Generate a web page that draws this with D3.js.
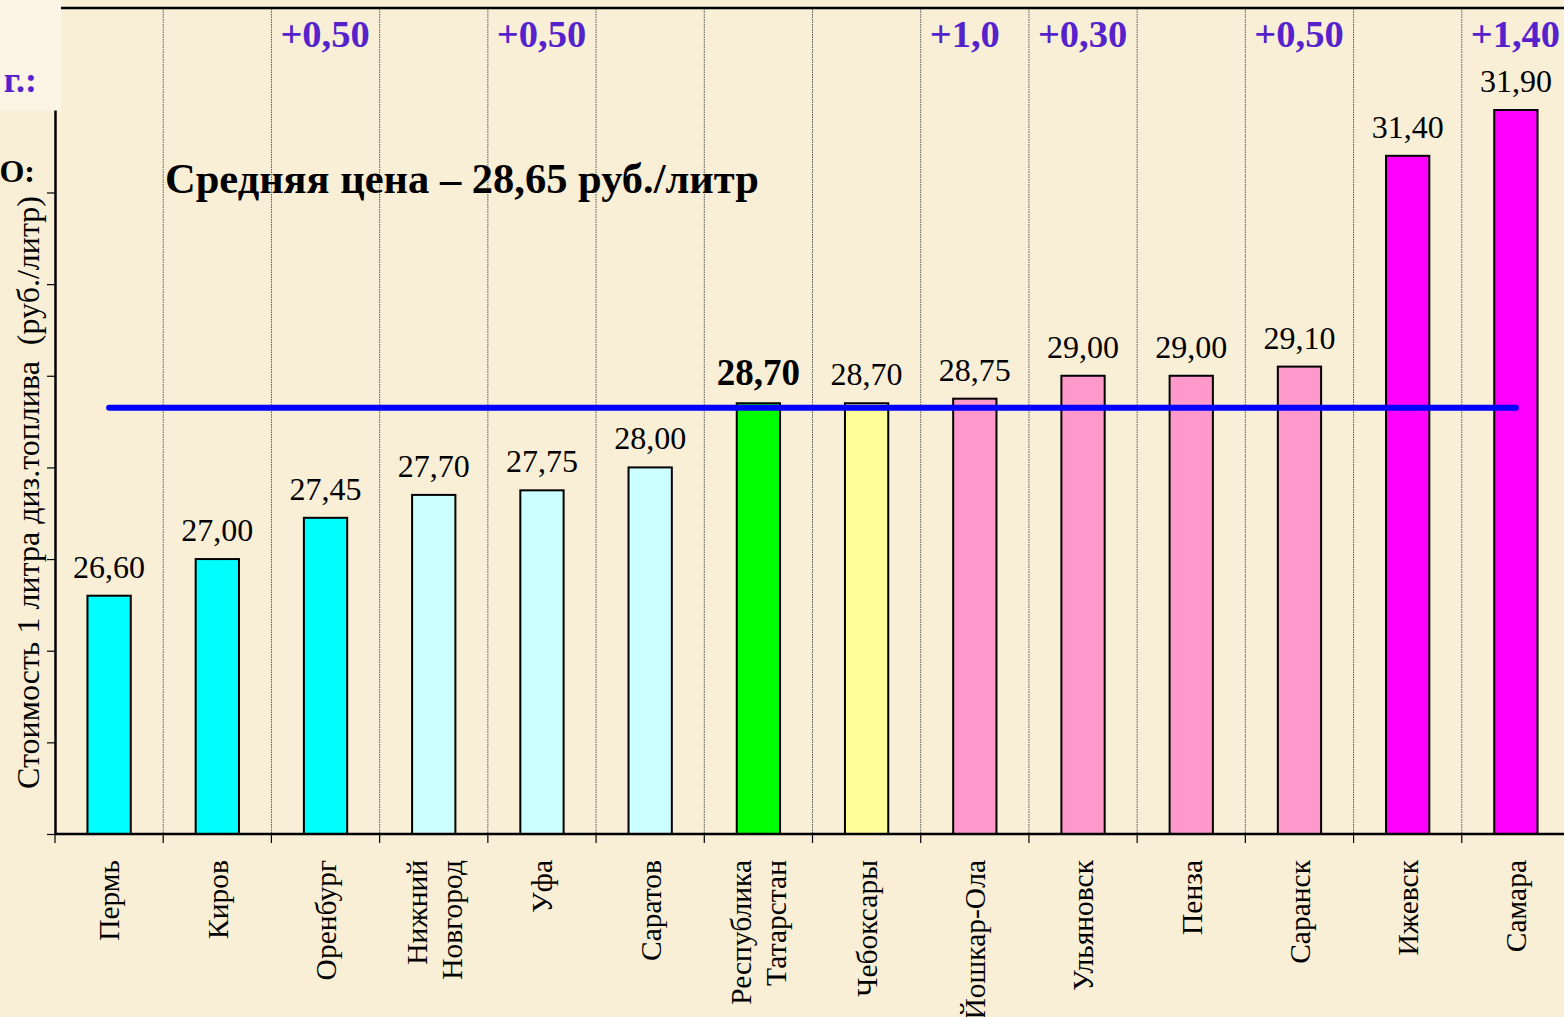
<!DOCTYPE html>
<html>
<head>
<meta charset="utf-8">
<script src="https://cdn.jsdelivr.net/npm/d3@7"></script>
<style>
  html, body { margin: 0; padding: 0; background: #f9eed6; overflow: hidden; }
  svg { display: block; }
  text { font-family: "Liberation Serif", "Times New Roman", serif; }
</style>
</head>
<body>
<svg id="chart" width="1564" height="1017"></svg>
<script>
// ---- data ----
const categories = ["Пермь", "Киров", "Оренбург", "Нижний\nНовгород", "Уфа", "Саратов",
  "Республика\nТатарстан", "Чебоксары", "Йошкар-Ола", "Ульяновск", "Пенза", "Саранск", "Ижевск", "Самара"];
const prices = [26.60, 27.00, 27.45, 27.70, 27.75, 28.00, 28.70, 28.70, 28.75, 29.00, 29.00, 29.10, 31.40, 31.90];
const priceLabels = ["26,60", "27,00", "27,45", "27,70", "27,75", "28,00", "28,70", "28,70", "28,75", "29,00", "29,00", "29,10", "31,40", "31,90"];
const increases = ["", "", "+0,50", "", "+0,50", "", "", "", "+1,0", "+0,30", "", "+0,50", "", "+1,40"];
const barColors = ["#00ffff", "#00ffff", "#00ffff", "#ccffff", "#ccffff", "#ccffff", "#00ff00", "#ffff99",
  "#ff99cc", "#ff99cc", "#ff99cc", "#ff99cc", "#ff00ff", "#ff00ff"];
const highlight = "Республика\nТатарстан";
const averagePrice = 28.65;
const averageLabel = "Средняя цена – 28,65 руб./литр";
const yTicks = [24, 25, 26, 27, 28, 29, 30, 31];
const yDomain = [24, 31.9];
const yTitle = "Стоимость 1 литра диз.топлива  (руб./литр)";

// ---- layout ----
const svg = d3.select("#chart");
const pLeft = 55, pRight = 1570, pTop = 110, pBottom = 834;

const xBand = d3.scaleBand().domain(categories).range([pLeft, pRight]).padding(0);
const xBar = d3.scaleBand().domain(categories).range([pLeft, pRight]).paddingInner(0.6).paddingOuter(0.3);
const y = d3.scaleLinear().domain(yDomain).range([pBottom, pTop]);

// light patch at left top
svg.append("rect").attr("x", 0).attr("y", 0).attr("width", 61).attr("height", 111).attr("fill", "#fcf4e4");

// top border line
svg.append("line").attr("x1", 61).attr("x2", 1564).attr("y1", 8).attr("y2", 8)
  .attr("stroke", "#000").attr("stroke-width", 2.5);

// vertical dotted gridlines at band boundaries
const boundaries = categories.slice(1).map(c => xBand(c));
svg.append("g").selectAll("line").data(boundaries).join("line")
  .attr("x1", d => d).attr("x2", d => d).attr("y1", 9).attr("y2", pBottom)
  .attr("stroke", "#555").attr("stroke-width", 1).attr("stroke-dasharray", "1.5,1");

// tick marks below x axis
svg.append("g").selectAll("line").data([pLeft].concat(boundaries)).join("line")
  .attr("x1", d => d).attr("x2", d => d).attr("y1", pBottom).attr("y2", pBottom + 9)
  .attr("stroke", "#000").attr("stroke-width", 1.2);

// title text (average)
svg.append("text").attr("x", 165).attr("y", 193)
  .attr("font-size", 42.5).attr("font-weight", "bold").attr("fill", "#000")
  .text(averageLabel);

// partial clipped texts at left
svg.append("text").attr("x", 37).attr("y", 92).attr("text-anchor", "end")
  .attr("font-size", 36).attr("font-weight", "bold").attr("fill", "#5522cc").text("г.:");
svg.append("text").attr("x", 35).attr("y", 182).attr("text-anchor", "end")
  .attr("font-size", 32).attr("font-weight", "bold").attr("fill", "#000").text("О:");

// bars
svg.append("g").selectAll("rect").data(categories).join("rect")
  .attr("x", c => xBar(c))
  .attr("y", (c, i) => y(prices[i]))
  .attr("width", xBar.bandwidth())
  .attr("height", (c, i) => pBottom - y(prices[i]))
  .attr("fill", (c, i) => barColors[i])
  .attr("stroke", "#000").attr("stroke-width", 2);

// value labels
svg.append("g").selectAll("text").data(categories).join("text")
  .attr("x", c => xBar(c) + xBar.bandwidth() / 2)
  .attr("y", (c, i) => y(prices[i]) - 18)
  .attr("text-anchor", "middle")
  .attr("font-size", c => c === highlight ? 37 : 32)
  .attr("font-weight", c => c === highlight ? "bold" : "normal")
  .attr("fill", "#000")
  .text((c, i) => priceLabels[i]);

// increase labels
svg.append("g").selectAll("text").data(categories.filter((c, i) => increases[i] !== "")).join("text")
  .attr("x", c => xBand(c) + 9)
  .attr("y", 47)
  .attr("font-size", 38.5).attr("font-weight", "bold").attr("fill", "#5522cc")
  .text(c => increases[categories.indexOf(c)]);

// average line
const first = categories[0], last = categories[categories.length - 1];
svg.append("line")
  .attr("x1", xBar(first) + xBar.bandwidth() / 2)
  .attr("x2", xBar(last) + xBar.bandwidth() / 2)
  .attr("y1", y(averagePrice)).attr("y2", y(averagePrice))
  .attr("stroke", "#0000ff").attr("stroke-width", 6).attr("stroke-linecap", "round");

// x axis line
svg.append("line").attr("x1", pLeft).attr("x2", 1564).attr("y1", pBottom).attr("y2", pBottom)
  .attr("stroke", "#000").attr("stroke-width", 2.5);

// y axis
const yAxis = d3.axisLeft(y).tickValues(yTicks).tickSize(8).tickSizeOuter(0).tickFormat("");
const gy = svg.append("g").attr("transform", `translate(${pLeft},0)`).call(yAxis);
gy.select(".domain").attr("stroke", "#000").attr("stroke-width", 2.5);
gy.selectAll(".tick line").attr("stroke", "#000").attr("stroke-width", 1.2);

// category labels (rotated)
const catG = svg.append("g").selectAll("g").data(categories).join("g")
  .attr("transform", c => `translate(${xBand(c) + xBand.bandwidth() / 2},860) rotate(-90)`);
catG.each(function(c) {
  const lines = c.split("\n");
  const g = d3.select(this);
  const lh = 35;
  lines.forEach((ln, j) => {
    const off = (j - (lines.length - 1) / 2) * lh;
    g.append("text").attr("x", 0).attr("y", off).attr("dy", "0.35em")
      .attr("text-anchor", "end").attr("font-size", 29.5).attr("fill", "#000").text(ln);
  });
});

// y axis title
svg.append("text")
  .attr("transform", `translate(28,${(195 + 790) / 2}) rotate(-90)`)
  .attr("dy", "0.35em")
  .attr("text-anchor", "middle").attr("font-size", 32).attr("fill", "#000")
  .attr("xml:space", "preserve").style("white-space", "pre")
  .text(yTitle);
</script>
</body>
</html>
